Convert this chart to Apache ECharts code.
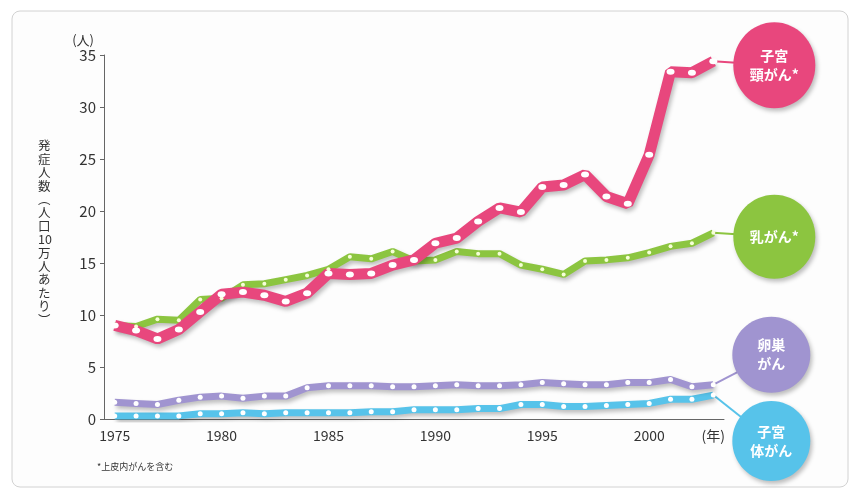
<!DOCTYPE html>
<html>
<head>
<meta charset="utf-8">
<script src="https://cdn.jsdelivr.net/npm/echarts@6/dist/echarts.min.js"></script>
<style>
html, body { margin: 0; padding: 0; background: #ffffff; }
#chartContainer { width: 852px; height: 489px; }
</style>
</head>
<body>
<div id="chartContainer"></div>
<script>
var years = ['1975', '1976', '1977', '1978', '1979', '1980', '1981', '1982', '1983', '1984',
    '1985', '1986', '1987', '1988', '1989', '1990', '1991', '1992', '1993', '1994',
    '1995', '1996', '1997', '1998', '1999', '2000', '2001', '2002', '2003'];
var yearLabels = ['1975', '1980', '1985', '1990', '1995', '2000'];

// 子宮頸がん
var cervix = [9.0, 8.5, 7.7, 8.6, 10.3, 12.0, 12.2, 11.9, 11.3, 12.1,
    14.0, 13.9, 14.0, 14.8, 15.3, 16.9, 17.4, 19.0, 20.3, 19.9,
    22.3, 22.5, 23.5, 21.4, 20.7, 25.4, 33.4, 33.3, 34.4];
// 乳がん
var breast = [9.0, 8.9, 9.6, 9.5, 11.5, 11.6, 12.9, 13.0, 13.4, 13.8,
    14.4, 15.6, 15.4, 16.1, 15.2, 15.3, 16.1, 15.9, 15.9, 14.8,
    14.4, 13.9, 15.2, 15.3, 15.5, 16.0, 16.6, 16.9, 17.9];
// 卵巣がん
var ovary = [1.6, 1.5, 1.4, 1.8, 2.1, 2.2, 2.0, 2.2, 2.2, 3.0,
    3.2, 3.2, 3.2, 3.1, 3.1, 3.2, 3.3, 3.2, 3.2, 3.3,
    3.5, 3.4, 3.3, 3.3, 3.5, 3.5, 3.8, 3.1, 3.3];
// 子宮体がん
var uterus = [0.3, 0.3, 0.3, 0.3, 0.5, 0.5, 0.6, 0.5, 0.6, 0.6,
    0.6, 0.6, 0.7, 0.7, 0.9, 0.9, 0.9, 1.0, 1.0, 1.4,
    1.4, 1.2, 1.2, 1.3, 1.4, 1.5, 1.9, 1.9, 2.3];

var pink = '#e8477d';
var green = '#8cc540';
var purple = '#a094d0';
var cyan = '#57c3ea';
var fontName = '"Noto Sans CJK JP", "Noto Sans", sans-serif';

var dom = document.getElementById('chartContainer');
var myChart = echarts.init(dom, null, { renderer: 'canvas' });

function lineSeries(name, data, color, width, dotSize, dotColor) {
    return {
        name: name,
        type: 'line',
        data: data,
        symbol: 'circle',
        symbolSize: dotSize,
        showSymbol: true,
        itemStyle: { color: dotColor },
        lineStyle: {
            color: color,
            width: width,
            shadowColor: 'rgba(0,0,0,0.25)',
            shadowBlur: 4,
            shadowOffsetX: 2,
            shadowOffsetY: 3
        },
        emphasis: { disabled: true },
        animation: false
    };
}

var option = {
    backgroundColor: '#ffffff',
    textStyle: { fontFamily: fontName },
    grid: { left: 104, right: 128, top: 55, bottom: 70 },
    xAxis: {
        type: 'category',
        data: years,
        boundaryGap: true,
        axisLine: { lineStyle: { color: '#666666', width: 1 } },
        axisTick: { alignWithLabel: true, interval: 0, length: 4, lineStyle: { color: '#666666' } },
        axisLabel: {
            interval: 0,
            margin: 10,
            color: '#333333',
            fontSize: 14,
            fontFamily: fontName,
            formatter: function (v, i) {
                if (i === years.length - 1) return '(年)';
                return yearLabels.indexOf(v) >= 0 ? v : '';
            }
        }
    },
    yAxis: {
        type: 'value',
        min: 0,
        max: 35,
        interval: 5,
        name: '(人)',
        nameLocation: 'end',
        nameGap: 8,
        nameTextStyle: { color: '#333333', fontSize: 13, align: 'right', padding: [0, 10, 0, 0] },
        axisLine: { show: true, lineStyle: { color: '#666666', width: 1 } },
        axisTick: { show: true, length: 4, lineStyle: { color: '#666666' } },
        splitLine: { show: false },
        axisLabel: { color: '#333333', fontSize: 15, margin: 8, fontFamily: fontName }
    },
    series: [
        lineSeries('子宮体がん', uterus, cyan, 7, 5, '#ffffff'),
        lineSeries('卵巣がん', ovary, purple, 7, 5, '#ffffff'),
        lineSeries('乳がん', breast, green, 7, 4, '#f6ffd8'),
        lineSeries('子宮頸がん', cervix, pink, 11, [8, 6], '#ffffff')
    ]
};

myChart.setOption(option);

// bubbles tied to the last point of each series
var bubbles = [
    { data: cervix, text: '子宮\n頸がん*', color: pink, dx: 61, dy: 4, rx: 41, ry: 43 },
    { data: breast, text: '乳がん*', color: green, dx: 61, dy: 4, rx: 41, ry: 42 },
    { data: ovary, text: '卵巣\nがん', color: purple, dx: 58, dy: -30, rx: 39, ry: 38 },
    { data: uterus, text: '子宮\n体がん', color: cyan, dx: 58, dy: 46, rx: 39, ry: 40 }
];

var last = years.length - 1;
var graphics = [{
    type: 'rect',
    z: -10,
    silent: true,
    shape: { x: 12, y: 11, width: 836, height: 476, r: 8 },
    style: { fill: '#fdfdfd', stroke: '#d2d2d2', lineWidth: 1 }
}, {
    type: 'text',
    left: 38,
    top: 139,
    silent: true,
    style: {
        text: ['発', '症', '人', '数', '︵', '人', '口', '10', '万', '人', 'あ', 'た', 'り', '︶'].join('\n'),
        fill: '#333333',
        font: '12.5px ' + fontName,
        lineHeight: 13.4,
        align: 'center',
        width: 14
    }
}, {
    type: 'text',
    left: 97,
    top: 462,
    silent: true,
    style: { text: '*上皮内がんを含む', fill: '#333333', font: '9px ' + fontName }
}];

bubbles.forEach(function (b) {
    var p = myChart.convertToPixel({ xAxisIndex: 0, yAxisIndex: 0 }, [years[last], b.data[last]]);
    var cx = p[0] + b.dx;
    var cy = p[1] + b.dy;
    graphics.push({
        type: 'line',
        z: 1,
        silent: true,
        shape: { x1: p[0], y1: p[1], x2: cx, y2: cy },
        style: { stroke: b.color, lineWidth: 2 }
    });
    graphics.push({
        type: 'ellipse',
        z: 5,
        silent: true,
        shape: { cx: cx, cy: cy, rx: b.rx, ry: b.ry },
        style: {
            fill: b.color,
            shadowColor: 'rgba(0,0,0,0.25)',
            shadowBlur: 4,
            shadowOffsetX: 2,
            shadowOffsetY: 3
        }
    });
    graphics.push({
        type: 'text',
        z: 6,
        silent: true,
        x: cx,
        y: cy,
        style: {
            text: b.text,
            fill: '#ffffff',
            font: 'bold 14px ' + fontName,
            align: 'center',
            verticalAlign: 'middle',
            lineHeight: 19
        }
    });
});

myChart.setOption({ graphic: graphics });

window.addEventListener('resize', myChart.resize);
</script>
</body>
</html>
